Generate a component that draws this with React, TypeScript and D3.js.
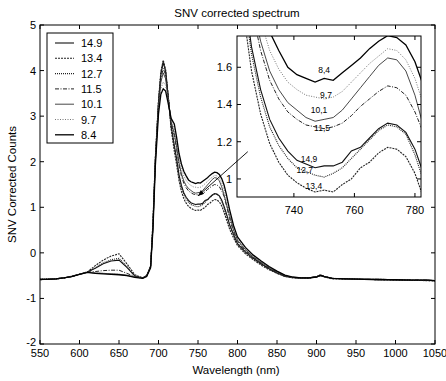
import React from "react";
import * as d3 from "d3";

const WAVELENGTHS = [550,560,570,580,590,600,610,620,630,640,650,660,670,680,
685,690,693,696,700,703,706,709,712,716,
720,723,726,729,732,735,738,741,744,747,750,753,756,759,762,765,768,771,774,777,780,783,786,
790,795,800,810,820,830,840,850,860,870,880,890,900,905,910,920,940,960,980,1000,1020,1040,1050];

const S_14_9 = [-0.58,-0.58,-0.57,-0.55,-0.52,-0.47,-0.42,-0.34,-0.24,-0.18,-0.16,-0.32,-0.51,-0.55,
-0.5,-0.3,0.62,2.05,3.3,3.92,4.18,3.98,3.48,2.78,
2.36,2.06,1.71,1.48,1.32,1.22,1.15,1.10,1.08,1.06,1.07,1.07,1.09,1.15,1.17,1.22,1.27,1.30,1.29,1.25,1.16,1.02,0.86,
0.62,0.4,0.2,0.02,-0.12,-0.24,-0.35,-0.44,-0.51,-0.54,-0.55,-0.55,-0.53,-0.5,-0.52,-0.56,-0.57,-0.58,-0.58,-0.59,-0.6,-0.6,-0.61];
const S_13_4 = [-0.59,-0.58,-0.57,-0.55,-0.52,-0.47,-0.42,-0.28,-0.16,-0.07,-0.02,-0.24,-0.48,-0.55,
-0.51,-0.28,0.7,2.1,3.35,3.98,4.23,4.02,3.5,2.72,
2.23,1.93,1.58,1.35,1.19,1.09,1.02,0.98,0.95,0.93,0.94,0.93,0.97,1.0,1.06,1.09,1.14,1.17,1.16,1.12,1.03,0.89,0.73,
0.52,0.33,0.16,-0.02,-0.15,-0.27,-0.37,-0.45,-0.52,-0.55,-0.56,-0.56,-0.53,-0.49,-0.53,-0.57,-0.58,-0.58,-0.59,-0.6,-0.6,-0.61,-0.62];
const S_12_7 = [-0.58,-0.57,-0.57,-0.55,-0.51,-0.47,-0.42,-0.33,-0.22,-0.15,-0.12,-0.3,-0.5,-0.55,
-0.5,-0.29,0.66,2.08,3.32,3.95,4.2,4.0,3.5,2.75,
2.32,2.02,1.67,1.44,1.28,1.18,1.11,1.06,1.04,1.02,1.01,1.03,1.06,1.11,1.16,1.21,1.26,1.29,1.28,1.24,1.13,0.98,0.8,
0.6,0.38,0.2,0.01,-0.13,-0.25,-0.35,-0.44,-0.51,-0.54,-0.55,-0.56,-0.52,-0.48,-0.52,-0.56,-0.57,-0.58,-0.59,-0.59,-0.6,-0.6,-0.61];
const S_11_5 = [-0.58,-0.58,-0.57,-0.55,-0.52,-0.47,-0.42,-0.41,-0.39,-0.38,-0.38,-0.45,-0.52,-0.55,
-0.5,-0.3,0.6,2.0,3.25,3.82,4.05,3.9,3.45,2.85,
2.57,2.27,1.92,1.69,1.53,1.43,1.36,1.32,1.29,1.28,1.27,1.28,1.30,1.34,1.39,1.43,1.47,1.50,1.49,1.45,1.36,1.24,1.04,
0.75,0.46,0.25,0.05,-0.1,-0.22,-0.33,-0.42,-0.5,-0.54,-0.55,-0.55,-0.52,-0.5,-0.52,-0.56,-0.57,-0.58,-0.58,-0.59,-0.59,-0.6,-0.61];
const S_10_1 = [-0.59,-0.58,-0.57,-0.55,-0.52,-0.47,-0.43,-0.44,-0.45,-0.46,-0.47,-0.49,-0.53,-0.55,
-0.51,-0.31,0.58,1.98,3.2,3.75,3.95,3.82,3.42,2.88,
2.62,2.32,1.97,1.74,1.58,1.48,1.41,1.37,1.33,1.31,1.32,1.33,1.37,1.43,1.49,1.55,1.61,1.65,1.64,1.58,1.45,1.27,1.07,
0.82,0.5,0.28,0.07,-0.09,-0.21,-0.32,-0.42,-0.5,-0.54,-0.55,-0.55,-0.52,-0.49,-0.52,-0.56,-0.57,-0.58,-0.58,-0.59,-0.6,-0.6,-0.61];
const S_9_7 = [-0.58,-0.58,-0.57,-0.55,-0.52,-0.47,-0.43,-0.44,-0.45,-0.46,-0.47,-0.5,-0.53,-0.56,
-0.51,-0.32,0.55,1.95,3.15,3.6,3.75,3.68,3.38,2.92,
2.73,2.43,2.08,1.85,1.69,1.59,1.52,1.48,1.45,1.44,1.43,1.44,1.47,1.52,1.57,1.62,1.66,1.70,1.69,1.64,1.54,1.39,1.18,
0.9,0.56,0.32,0.1,-0.07,-0.2,-0.31,-0.41,-0.49,-0.54,-0.55,-0.55,-0.52,-0.5,-0.52,-0.56,-0.57,-0.58,-0.58,-0.59,-0.6,-0.6,-0.61];
const S_8_4 = [-0.58,-0.58,-0.57,-0.55,-0.52,-0.47,-0.43,-0.45,-0.46,-0.47,-0.48,-0.5,-0.54,-0.56,
-0.52,-0.33,0.52,1.9,3.05,3.48,3.6,3.55,3.3,2.95,
2.83,2.53,2.18,1.95,1.79,1.69,1.60,1.56,1.54,1.52,1.54,1.53,1.57,1.61,1.65,1.70,1.74,1.77,1.76,1.72,1.63,1.49,1.28,
0.95,0.6,0.35,0.12,-0.05,-0.18,-0.3,-0.4,-0.49,-0.53,-0.55,-0.55,-0.53,-0.49,-0.52,-0.56,-0.57,-0.58,-0.59,-0.59,-0.6,-0.6,-0.61];

const SERIES_NAMES = ["14.9", "13.4", "12.7", "11.5", "10.1", "9.7", "8.4"];
const SERIES_VALUES = [S_14_9, S_13_4, S_12_7, S_11_5, S_10_1, S_9_7, S_8_4];

const X_TICKS = [550,600,650,700,750,800,850,900,950,1000,1050];
const Y_TICKS = [-2,-1,0,1,2,3,4,5];
const INSET_X_TICKS = [740,760,780];
const INSET_Y_TICKS = [1,1.2,1.4,1.6];

// inset curve labels: [text, wavelength, value]
const INSET_LABEL_TEXT = ["8,4","9,7","10,1","11,5","14,9","12,7","13,4"];
const INSET_LABEL_NM = [750,750.6,748.3,749.3,745,743.6,746.6];
const INSET_LABEL_VAL = [1.585,1.45,1.368,1.276,1.105,1.05,0.962];

// arrow: from (nm, value) tail to head
const ARROW_TAIL = [813, 2.22];
const ARROW_HEAD = [750, 1.25];

const STYLES = [
  { dash: "none", color: "#111", w: 1.1 },
  { dash: "2,1", color: "#222", w: 1.1 },
  { dash: "1,1", color: "#222", w: 1.1 },
  { dash: "4,1.5,1,1.5", color: "#222", w: 1.0 },
  { dash: "none", color: "#333", w: 0.9 },
  { dash: "1,1.5", color: "#777", w: 1.0 },
  { dash: "none", color: "#000", w: 1.3 },
];

const FONT = "'Liberation Sans', Arial, sans-serif";

export default function App() {
  const x = d3.scaleLinear().domain([550, 1050]).range([40, 435]);
  const y = d3.scaleLinear().domain([-2, 5]).range([344, 25]);
  const ix = d3.scaleLinear().domain([721.2, 782]).range([237, 421]);
  const iy = d3.scaleLinear().domain([0.903, 1.768]).range([197, 36]);

  const mainLine = (vals: number[]) =>
    d3.line<number>().x((_, i) => x(WAVELENGTHS[i])).y((v) => y(v))(vals) || "";
  const insetLine = (vals: number[]) =>
    d3.line<number>().x((_, i) => ix(WAVELENGTHS[i])).y((v) => iy(v))(vals) || "";

  const [x0, x1] = x.range();
  const [yb, yt] = y.range();
  const [ix0, ix1] = ix.range();
  const [iyb, iyt] = iy.range();
  const tl = 4;

  const hx = x(ARROW_HEAD[0]), hy = y(ARROW_HEAD[1]);
  const tx = x(ARROW_TAIL[0]), ty = y(ARROW_TAIL[1]);
  const ang = Math.atan2(hy - ty, hx - tx);
  const ah = 6, aw = 2.5;
  const arrowPts = [
    [hx, hy],
    [hx - ah * Math.cos(ang) + aw * Math.sin(ang), hy - ah * Math.sin(ang) - aw * Math.cos(ang)],
    [hx - ah * Math.cos(ang) - aw * Math.sin(ang), hy - ah * Math.sin(ang) + aw * Math.cos(ang)],
  ].map((p) => p.join(",")).join(" ");

  const legX = 47, legY = 33, legW = 66, legH = 110, legStep = 15.3;

  return (
    <svg width={446} height={381} style={{ position: "absolute", left: 0, top: 0, background: "#fff" }} fontFamily={FONT}>
      <defs>
        <clipPath id="mainClip"><rect x={x0} y={yt} width={x1 - x0} height={yb - yt} /></clipPath>
        <clipPath id="insetClip"><rect x={ix0} y={iyt} width={ix1 - ix0} height={iyb - iyt} /></clipPath>
      </defs>
      <rect x={0} y={0} width={446} height={381} fill="#fff" />
      <text x={237} y={17} textAnchor="middle" fontSize={11.5}>SNV corrected spectrum</text>

      {/* main curves */}
      <g clipPath="url(#mainClip)" fill="none">
        {SERIES_VALUES.map((vals, k) => (
          <path key={k} d={mainLine(vals)} stroke={STYLES[k].color} strokeWidth={STYLES[k].w}
            strokeDasharray={STYLES[k].dash} />
        ))}
      </g>

      {/* main frame and ticks */}
      <rect x={x0} y={yt} width={x1 - x0} height={yb - yt} fill="none" stroke="#000" strokeWidth={1} />
      {X_TICKS.map((t) => (
        <g key={"xt" + t}>
          <line x1={x(t)} x2={x(t)} y1={yb} y2={yb - tl} stroke="#000" />
          <line x1={x(t)} x2={x(t)} y1={yt} y2={yt + tl} stroke="#000" />
          <text x={x(t)} y={357} textAnchor="middle" fontSize={11}>{t}</text>
        </g>
      ))}
      {Y_TICKS.map((t) => (
        <g key={"yt" + t}>
          <line x1={x0} x2={x0 + tl} y1={y(t)} y2={y(t)} stroke="#000" />
          <line x1={x1} x2={x1 - tl} y1={y(t)} y2={y(t)} stroke="#000" />
          <text x={36} y={y(t) + (t === -2 ? 2 : 4)} textAnchor="end" fontSize={11}>{t}</text>
        </g>
      ))}
      <text x={236} y={374} textAnchor="middle" fontSize={11.5}>Wavelength (nm)</text>
      <text transform={`translate(16,${(yt + yb) / 2}) rotate(-90)`} textAnchor="middle" fontSize={11.5}>SNV Corrected Counts</text>

      {/* legend */}
      <rect x={legX} y={legY} width={legW} height={legH} fill="#fff" stroke="#000" strokeWidth={1} />
      {SERIES_NAMES.map((n, k) => {
        const cy = legY + 10 + k * legStep;
        return (
          <g key={"lg" + n}>
            <line x1={legX + 8} x2={legX + 27} y1={cy} y2={cy} stroke={STYLES[k].color}
              strokeWidth={STYLES[k].w} strokeDasharray={STYLES[k].dash} />
            <text x={legX + 34} y={cy + 4} fontSize={11}>{n}</text>
          </g>
        );
      })}

      {/* inset */}
      <rect x={ix0} y={iyt} width={ix1 - ix0} height={iyb - iyt} fill="#fff" stroke="none" />
      <g clipPath="url(#insetClip)" fill="none">
        {SERIES_VALUES.map((vals, k) => (
          <path key={"in" + k} d={insetLine(vals)} stroke={STYLES[k].color} strokeWidth={STYLES[k].w}
            strokeDasharray={STYLES[k].dash} />
        ))}
      </g>
      <rect x={ix0} y={iyt} width={ix1 - ix0} height={iyb - iyt} fill="none" stroke="#000" strokeWidth={1} />
      {INSET_X_TICKS.map((t) => (
        <g key={"ixt" + t}>
          <line x1={ix(t)} x2={ix(t)} y1={iyb} y2={iyb - tl} stroke="#000" />
          <line x1={ix(t)} x2={ix(t)} y1={iyt} y2={iyt + tl} stroke="#000" />
          <text x={ix(t)} y={iyb + 17} textAnchor="middle" fontSize={11}>{t}</text>
        </g>
      ))}
      {INSET_Y_TICKS.map((t) => (
        <g key={"iyt" + t}>
          <line x1={ix0} x2={ix0 + tl} y1={iy(t)} y2={iy(t)} stroke="#000" />
          <line x1={ix1} x2={ix1 - tl} y1={iy(t)} y2={iy(t)} stroke="#000" />
          <text x={ix0 - 5} y={iy(t) + 4} textAnchor="end" fontSize={11}>{t === 1 ? "1" : t.toFixed(1)}</text>
        </g>
      ))}
      {INSET_LABEL_TEXT.map((s, k) => (
        <text key={"il" + k} x={ix(INSET_LABEL_NM[k])} y={iy(INSET_LABEL_VAL[k]) + 3}
          textAnchor="middle" fontSize={8.5}>{s}</text>
      ))}

      {/* arrow */}
      <line x1={tx} y1={ty} x2={hx} y2={hy} stroke="#000" strokeWidth={0.9} />
      <polygon points={arrowPts} fill="#000" />
    </svg>
  );
}
